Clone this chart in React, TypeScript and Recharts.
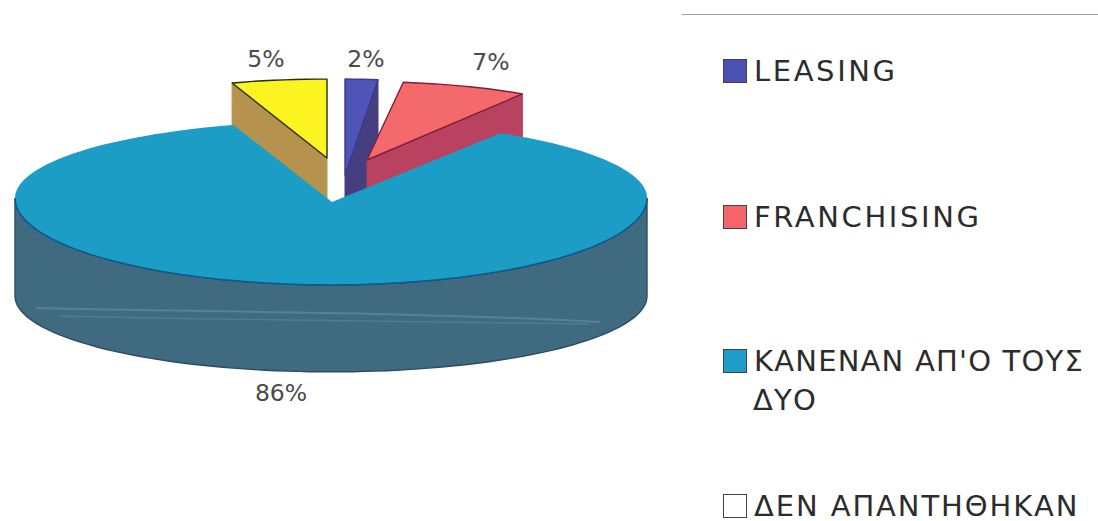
import React from "react";
import { Legend, Pie, PieChart } from "recharts";

// drawn back to front, so the big slice covers the walls of the pulled-out ones
const names = ["ΔΕΝ ΑΠΑΝΤΗΘΗΚΑΝ", "LEASING", "FRANCHISING", "ΚΑΝΕΝΑΝ ΑΠ'Ο ΤΟΥΣ ΔΥΟ"];
const values = [5, 2, 7, 86];
const percentLabels = ["5%", "2%", "7%", "86%"];

const legendNames = ["LEASING", "FRANCHISING", "ΚΑΝΕΝΑΝ ΑΠ'Ο ΤΟΥΣ", "ΔΕΝ ΑΠΑΝΤΗΘΗΚΑΝ"];
const legendColors = ["#4a50b4", "#f4656a", "#1f9ccb", "#ffffff"];
const legendSpacing = [2.6, 2.6, 1.2, 1.9];

const data = names.map((name, i) => ({ name, value: values[i], label: percentLabels[i] }));

const FONT = "'DejaVu Sans', sans-serif";
const CX = 331;
const CY = 198;
const R = 316;

// 3d look for each slice: where its tip sits and how it is squashed
const look: Record<string, any> = {
  "ΔΕΝ ΑΠΑΝΤΗΘΗΚΑΝ": { ax: 327, ay: 158, r: 307, k: 0.257, top: "#fbf420", wall: "#b5934f", edge: "#2e2a10", side: "start", depth: 90 },
  LEASING: { ax: 345, ay: 175, r: 263, k: 0.365, top: "#4f55b8", wall: "#453f80", edge: "#3a3a88", side: "end", depth: 90 },
  FRANCHISING: { ax: 367, ay: 160, r: 290, k: 0.27, top: "#f4696c", wall: "#b8425f", edge: "#7d1f3c", side: "end", depth: 90 },
};
const labelAt: Record<string, [number, number]> = {
  "5%": [266, 67],
  "2%": [366, 67],
  "7%": [491, 70],
  "86%": [281, 401],
};

const rad = (a: number) => (a * Math.PI) / 180;

function arc(from: number, to: number, pt: (a: number) => number[]) {
  const out: number[][] = [];
  const n = Math.max(2, Math.ceil(Math.abs(to - from) / 2));
  for (let i = 0; i <= n; i++) out.push(pt(from + ((to - from) * i) / n));
  return out;
}
const toD = (pts: number[][]) => "M" + pts.map((p) => `${p[0].toFixed(1)},${p[1].toFixed(1)}`).join("L");

function Slice3D(props: any) {
  const { startAngle, endAngle } = props;
  const name = props.name ?? props.payload?.name;
  const s = look[name];

  if (s) {
    const pt = (a: number) => [s.ax + s.r * Math.cos(rad(a)), s.ay - s.r * s.k * Math.sin(rad(a))];
    const w = pt(s.side === "start" ? startAngle : endAngle);
    const wall = [w, [s.ax, s.ay], [s.ax, s.ay + s.depth], [w[0], w[1] + s.depth]];
    const top = [[s.ax, s.ay], ...arc(startAngle, endAngle, pt)];
    return (
      <g>
        <path d={toD(wall) + "Z"} fill={s.wall} stroke={s.wall} strokeWidth={1} />
        <path d={toD(top) + "Z"} fill={s.top} stroke={s.edge} strokeWidth={1.4} strokeLinejoin="round" />
      </g>
    );
  }

  // the big slice: rear of the ellipse is flatter than the front, like the perspective in the original
  const topPt = (a: number) => {
    const sin = Math.sin(rad(a));
    return [CX + R * Math.cos(rad(a)), CY - R * sin * (sin > 0 ? 0.243 : 0.275)];
  };
  const botPt = (a: number) => [CX + R * Math.cos(rad(a)), 296 - R * Math.sin(rad(a)) * 0.24];
  const front = arc(0, -180, topPt);
  const back = arc(-180, 0, botPt);
  const top = [[332, 202], ...arc(startAngle, endAngle, topPt)];
  return (
    <g>
      <path d={toD([...front, ...back]) + "Z"} fill="#3f6a80" stroke="#2f4a66" strokeWidth={1.4} />
      <path d="M36,308 C200,312 420,312 600,322" fill="none" stroke="#6a90a4" strokeWidth={2} opacity={0.6} />
      <path d="M60,316 C240,320 430,322 590,324" fill="none" stroke="#6a90a4" strokeWidth={1.5} opacity={0.45} />
      <path d={toD(top) + "Z"} fill="#1b9dc5" />
      <path d={toD(front)} fill="none" stroke="#0c5b8c" strokeWidth={1.5} />
    </g>
  );
}

function PercentLabel(props: any) {
  const text = props.payload?.label ?? props.label;
  const pos = labelAt[text];
  if (!pos) return null;
  return (
    <text x={pos[0]} y={pos[1]} textAnchor="middle" fontFamily={FONT} fontSize={23.5} fill="#4a4a4a">
      {text}
    </text>
  );
}

function LegendBlock() {
  const rows = [82, 228, 372, 517];
  const text: React.CSSProperties = {
    position: "absolute",
    fontFamily: FONT,
    fontSize: 29,
    lineHeight: "29px",
    color: "#2c2c2c",
    whiteSpace: "nowrap",
  };
  return (
    <div style={{ position: "relative", width: 1098, height: 521 }}>
      <div style={{ position: "absolute", left: 682, top: 14, width: 416, height: 1, background: "#a0a0a0" }} />
      {legendNames.map((n, i) => (
        <React.Fragment key={n}>
          <div
            style={{
              position: "absolute",
              left: 723,
              top: rows[i] - 23,
              width: 22,
              height: 22,
              background: legendColors[i],
              border: "1px solid #444",
              boxSizing: "content-box",
            }}
          />
          <div style={{ ...text, letterSpacing: legendSpacing[i], left: 754, top: rows[i] - 25 }}>{n}</div>
        </React.Fragment>
      ))}
      <div style={{ ...text, letterSpacing: 1.2, left: 753, top: 386 }}>ΔΥΟ</div>
    </div>
  );
}

export default function App() {
  return (
    <div style={{ position: "absolute", left: 0, top: 0, width: 1098, height: 521, background: "#fff" }}>
      <PieChart width={1098} height={521} margin={{ top: 0, right: 0, bottom: 0, left: 0 }}>
        <Pie
          data={data}
          dataKey="value"
          nameKey="name"
          cx={CX}
          cy={CY}
          outerRadius={R}
          startAngle={108}
          endAngle={-252}
          stroke="none"
          shape={Slice3D}
          label={PercentLabel}
          labelLine={false}
          isAnimationActive={false}
        />
        <Legend
          content={LegendBlock}
          wrapperStyle={{ position: "absolute", left: 0, top: 0, width: 1098, height: 0, pointerEvents: "none" }}
        />
      </PieChart>
    </div>
  );
}
